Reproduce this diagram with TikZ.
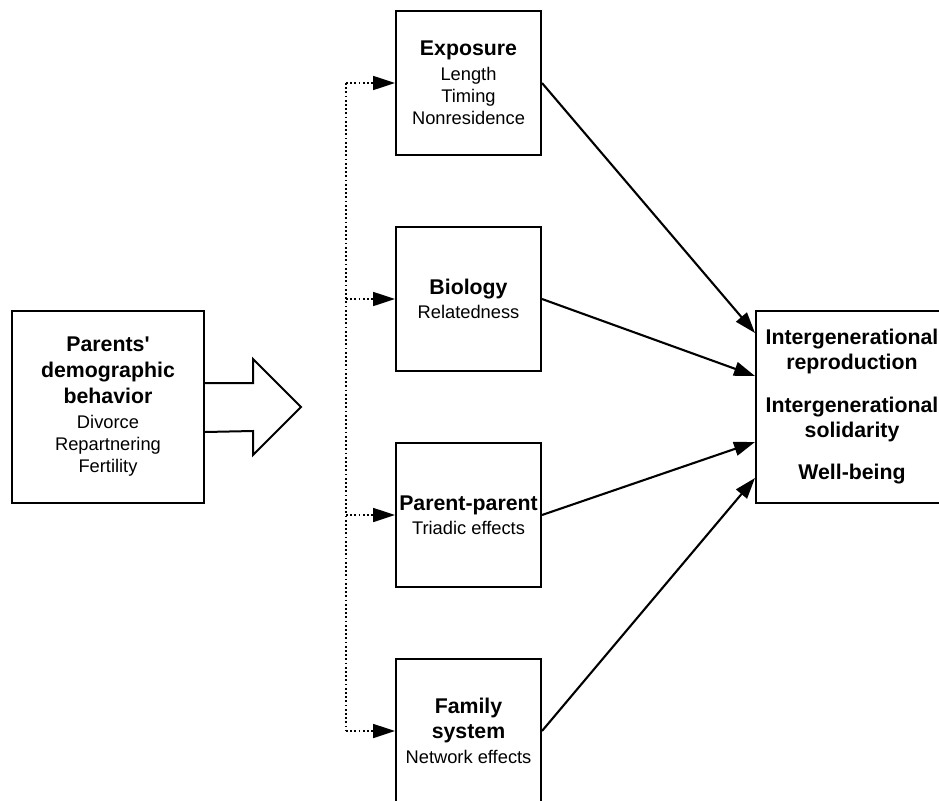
\documentclass[tikz,border=0pt]{standalone}
\usepackage{fontspec}
\setmainfont{Liberation Sans}
\usetikzlibrary{arrows.meta}
\tikzset{
  box/.style={draw, line width=2pt, align=center, inner sep=0pt,
    font=\fontsize{18.3}{22}\selectfont},
  midbox/.style={box, minimum width=145pt, minimum height=144pt},
  bigbox/.style={box, minimum width=192pt, minimum height=192pt},
  solidarrow/.style={line width=2.1pt, -{Triangle[length=21pt,width=14pt]}},
  dotline/.style={line width=1.7pt, dash pattern=on 1.8pt off 2.4pt},
  dotarrow/.style={dotline, -{Triangle[length=22pt,width=14pt]}},
  hollow/.style={line width=2pt, line join=miter, fill=white},
}
\newcommand{\bt}[1]{{\fontsize{21.3}{22}\selectfont\bfseries #1}}
\begin{document}
\begin{tikzpicture}[x=1pt,y=-1pt]
\path[use as bounding box, clip] (0,0) rectangle (939,800);
\fill[white] (0,0) rectangle (939,800);

\node[bigbox] (parents) at (108,407)
  {\bt{Parents\textquotesingle}\\[4pt]\bt{demographic}\\[4pt]\bt{behavior}\\[3pt]Divorce\\Repartnering\\Fertility};

\node[midbox] (exp) at (468.5,83)
  {\bt{Exposure}\\[3pt]Length\\Timing\\Nonresidence};
\node[midbox] (bio) at (468.5,299)
  {\bt{Biology}\\[2pt]Relatedness};
\node[midbox] (pp) at (468.5,515)
  {\bt{Parent-parent}\\[2pt]Triadic effects};
\node[midbox] (fam) at (468.5,731)
  {\bt{Family}\\[3pt]\bt{system}\\[3pt]Network effects};

\node[bigbox, font=\fontsize{21.3}{25}\selectfont\bfseries] (out) at (852,407)
  {Intergenerational\\reproduction\\[18pt]Intergenerational\\solidarity\\[17pt]Well-being};

% big hollow arrow
\draw[hollow] ([yshift=24pt]parents.east) -- ++(48,0) -- ++(0,-24) -- ++(48,48)
  -- ++(-48,48) -- ++(0,-24) -- ([yshift=-25pt]parents.east);

% dotted distribution line
\coordinate (b1) at ([xshift=-49pt]exp.west);
\coordinate (b4) at ([xshift=-49pt]fam.west);
\draw[dotline] (b1) -- (b4);
\draw[dotarrow] (b1) -- (exp.west);
\draw[dotarrow] ([xshift=-49pt]bio.west) -- (bio.west);
\draw[dotarrow] ([xshift=-49pt]pp.west) -- (pp.west);
\draw[dotarrow] (b4) -- (fam.west);

% solid arrows to outcome
\draw[solidarrow] (exp.east) -- ([yshift=74pt]out.west);
\draw[solidarrow] (bio.east) -- ([yshift=31pt]out.west);
\draw[solidarrow] (pp.east) -- ([yshift=-35pt]out.west);
\draw[solidarrow] (fam.east) -- ([yshift=-71pt]out.west);
\end{tikzpicture}
\end{document}
